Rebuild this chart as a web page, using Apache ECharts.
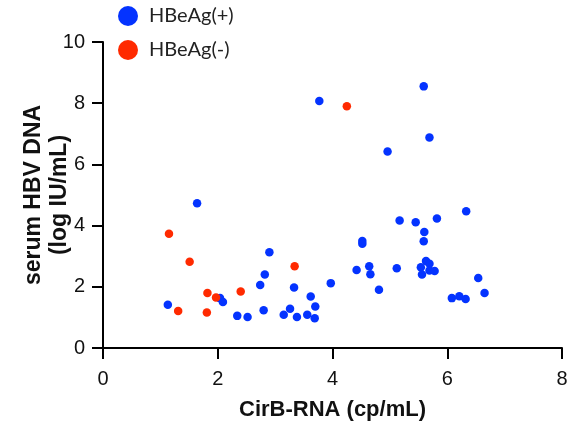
<!DOCTYPE html>
<html>
<head>
<meta charset="utf-8">
<script src="https://cdn.jsdelivr.net/npm/echarts@6/dist/echarts.min.js"></script>
<style>html,body{margin:0;padding:0;background:#fff;}#c{width:570px;height:428px;}</style>
</head>
<body>
<div id="c"></div>
<script>
const seriesNames = ['HBeAg(+)', 'HBeAg(-)'];
const xTicks = [0, 2, 4, 6, 8];
const yTicks = [0, 2, 4, 6, 8, 10];
const posX = [3.77,1.64,2.90,2.82,2.74,3.33,3.97,3.62,3.70,1.13,2.04,2.09,2.34,2.52,2.80,3.15,3.26,3.38,3.56,3.69,
  5.59,5.69,4.96,6.33,5.17,5.45,5.82,5.60,5.59,4.52,4.52,4.42,4.64,4.66,4.81,5.12,5.63,5.69,5.54,5.56,5.69,5.78,6.54,6.65,6.08,6.21,6.32];
const posY = [8.07,4.73,3.13,2.40,2.06,1.98,2.12,1.68,1.36,1.41,1.63,1.50,1.05,1.01,1.23,1.09,1.28,1.01,1.09,0.97,
  8.55,6.88,6.42,4.47,4.17,4.11,4.23,3.79,3.49,3.50,3.41,2.55,2.67,2.41,1.90,2.61,2.84,2.75,2.64,2.40,2.53,2.52,2.29,1.80,1.63,1.69,1.60];
const negX = [4.25,1.15,1.51,3.34,1.82,1.97,2.40,1.31,1.81];
const negY = [7.90,3.73,2.82,2.67,1.80,1.65,1.85,1.21,1.16];

const zip = (a, b) => a.map((v, i) => [v, b[i]]);
const FONT = "Arial, 'Liberation Sans', Helvetica, sans-serif";
const chart = echarts.init(document.getElementById('c'), null, {renderer: 'canvas'});
const axisCommon = {
  axisLine: {show: true, lineStyle: {color: '#000', width: 2}},
  axisTick: {show: true, length: 11, lineStyle: {color: '#000', width: 2}},
  splitLine: {show: false},
  nameMoveOverlap: false,
  axisLabel: {color: '#111', fontSize: 20, fontFamily: FONT}
};
chart.setOption({
  animation: false,
  backgroundColor: '#fff',
  grid: {left: 103, right: 8, top: 42, bottom: 80, containLabel: false, outerBoundsMode: 'none'},
  legend: {
    orient: 'vertical', left: 118, top: 6, padding: 0, itemWidth: 20, itemHeight: 20, itemGap: 14,
    icon: 'circle',
    textStyle: {fontSize: 20, fontFamily: 'Lato', color: '#222', padding: [0, 0, 0, 6]},
    data: seriesNames
  },
  xAxis: Object.assign({}, axisCommon, {
    type: 'value', min: xTicks[0], max: xTicks[xTicks.length - 1], interval: 2,
    name: 'CirB-RNA (cp/mL)', nameLocation: 'middle', nameGap: 51,
    nameTextStyle: {fontSize: 22, fontWeight: 'bold', fontFamily: FONT, color: '#111'},
    axisLabel: Object.assign({}, axisCommon.axisLabel, {margin: 21})
  }),
  yAxis: Object.assign({}, axisCommon, {
    type: 'value', min: yTicks[0], max: yTicks[yTicks.length - 1], interval: 2,
    name: 'serum HBV DNA\n(log IU/mL)', nameLocation: 'middle', nameGap: 30, nameRotate: 90,
    nameTextStyle: {fontSize: 23, fontWeight: 'bold', fontFamily: FONT, color: '#111', lineHeight: 26},
    axisLabel: Object.assign({}, axisCommon.axisLabel, {margin: 18})
  }),
  series: [
    {name: seriesNames[0], type: 'scatter', symbolSize: 8.5, itemStyle: {color: '#0433FF', opacity: 1}, data: zip(posX, posY)},
    {name: seriesNames[1], type: 'scatter', symbolSize: 8.5, itemStyle: {color: '#FF2A00', opacity: 1}, data: zip(negX, negY)}
  ]
});
</script>
</body>
</html>
